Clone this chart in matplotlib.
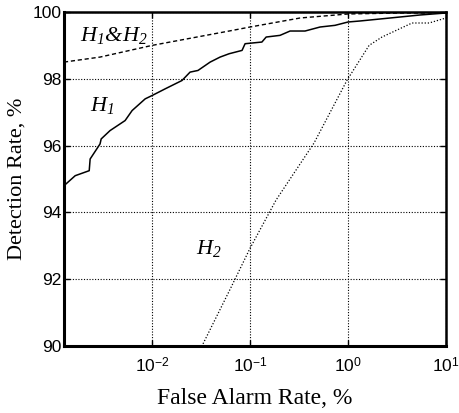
import matplotlib
matplotlib.use("Agg")
import matplotlib.pyplot as plt
from matplotlib.ticker import FixedFormatter
import numpy as np

plt.rcParams['mathtext.fontset'] = 'custom'
plt.rcParams['mathtext.rm'] = 'Liberation Sans'
plt.rcParams['mathtext.it'] = 'Liberation Serif:italic'
plt.rcParams['mathtext.sf'] = 'Liberation Sans'
plt.rcParams['mathtext.cal'] = 'Liberation Serif:italic'

# H1 (solid)
h1_far = [0.00126, 0.00164, 0.00228, 0.00233, 0.00294, 0.00302, 0.00372, 0.0053,
          0.00625, 0.0085, 0.010, 0.0136, 0.0202, 0.0244, 0.0294, 0.0391, 0.0494,
          0.0611, 0.0828, 0.0889, 0.132, 0.146, 0.202, 0.256, 0.364, 0.518, 0.736,
          1.0, 1.32, 2.12, 3.40, 5.43, 10.0]
h1_dr = [94.8, 95.1, 95.25, 95.6, 96.05, 96.2, 96.45, 96.75, 97.05, 97.4, 97.5,
         97.7, 97.95, 98.2, 98.25, 98.5, 98.65, 98.75, 98.85, 99.05, 99.1, 99.25,
         99.3, 99.43, 99.43, 99.55, 99.6, 99.7, 99.73, 99.79, 99.85, 99.91, 99.97]

# H1&H2 (dashed)
h12_far = [0.00126, 0.00294, 0.010, 0.0611, 0.10, 0.324, 1.0, 3.40, 10.0]
h12_dr = [98.5, 98.65, 99.0, 99.43, 99.55, 99.82, 99.94, 99.97, 99.97]

# H2 (dotted)
h2_far = [0.031, 0.0625, 0.10, 0.184, 0.450, 0.977, 1.64, 2.22, 4.50, 6.71, 10.0]
h2_dr = [89.9, 91.7, 92.93, 94.37, 96.08, 97.96, 99.0, 99.25, 99.67, 99.67, 99.82]

xticks = [0.01, 0.1, 1, 10]
xticklabels = [r'$10^{-2}$', r'$10^{-1}$', r'$10^{0}$', r'$10^{1}$']
yticks = [90, 92, 94, 96, 98, 100]

fig = plt.figure(figsize=(4.59, 4.13), dpi=100)
ax = fig.add_axes([0.1394, 0.162, 0.8323, 0.809])

ax.plot(h1_far, h1_dr, color='black', lw=1.1, ls='-')
ax.plot(h12_far, h12_dr, color='black', lw=1.0, ls=(0, (3, 2)))
ax.plot(h2_far, h2_dr, color='black', lw=0.9, ls=(0, (1, 1.5)))

ax.set_xscale('log')
ax.set_xlim(0.00126, 10)
ax.set_ylim(90, 100)
ax.set_xticks(xticks)
ax.xaxis.set_major_formatter(FixedFormatter(xticklabels))
ax.set_yticks(yticks)
ax.minorticks_off()
ax.grid(True, color='black', ls=(0, (1, 1.5)), lw=0.8)
ax.tick_params(direction='in', top=True, right=True, length=4, width=1,
               labelsize=12.5)
ax.tick_params(axis='x', pad=8)
ax.tick_params(axis='y', pad=2)
for lab in ax.get_yticklabels():
    lab.set_family(['Liberation Sans', 'DejaVu Sans'])
for s in ['left', 'bottom']:
    ax.spines[s].set_linewidth(2.2)
for s in ['top', 'right']:
    ax.spines[s].set_linewidth(1.8)

ax.set_xlabel('False Alarm Rate, %', family='Liberation Serif', fontsize=17, labelpad=8)
ax.set_ylabel('Detection Rate, %', family='Liberation Serif', fontsize=16, labelpad=4)

ax.text(0.00184, 99.31, r'$\mathcal{H_1}$&$\mathcal{H_2}$', family='Liberation Serif', fontsize=16,
        va='center', ha='left', style='italic')
ax.text(0.00233, 97.2, r'$\mathcal{H_1}$', fontsize=16, va='center', ha='left')
ax.text(0.028, 92.93, r'$\mathcal{H_2}$', fontsize=16, va='center', ha='left')

fig.savefig('out.png', dpi=100)
